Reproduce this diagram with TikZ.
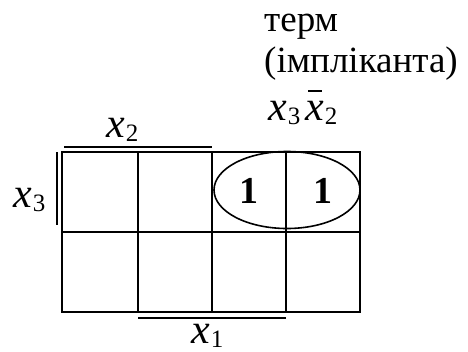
\documentclass[tikz,border=0pt]{standalone}
\usepackage{fontspec}
\setmainfont{Liberation Serif}
\newcommand{\vx}[3][42]{{\fontsize{#1}{#1}\selectfont\itshape #2}\kern1pt\raisebox{-4pt}{\fontsize{25}{25}\selectfont #3}}
\newcommand{\barx}{\rlap{\hspace{3pt}\raisebox{28pt}{\rule{14pt}{1.6pt}}}x}
\begin{document}
\begin{tikzpicture}[x=1pt,y=-1pt,
  grid/.style={line width=1.8pt},
  bar/.style={line width=2pt},
  lbl/.style={inner sep=0pt, anchor=base west},
  one/.style={font=\fontsize{38}{38}\selectfont\bfseries, inner sep=0pt},
  txt/.style={font=\fontsize{37}{37}\selectfont, inner sep=0pt, anchor=base west}]
\useasboundingbox (0,0) rectangle (468,351);
% grid
\draw[grid] (62,152) rectangle (360,312);
\foreach \x in {138,212,286} \draw[grid] (\x,152) -- (\x,312);
\draw[grid] (62,232) -- (360,232);
% bars
\coordinate (b2a) at (64,147); \coordinate (b2b) at (212,147);
\draw[bar] (b2a) -- (b2b);
\coordinate (b3a) at (57,152); \coordinate (b3b) at (57,225);
\draw[bar] (b3a) -- (b3b);
\coordinate (b1a) at (138,318); \coordinate (b1b) at (286,318);
\draw[bar] (b1a) -- (b1b);
% labels
\node[lbl] (lx2) at (106,137) {\vx{x}{2}};
\node[lbl] (lx3) at (13,207) {\vx{x}{3}};
\node[lbl] (lx1) at (191,343) {\vx{x}{1}};
% ones
\node[one, anchor=base] (o1) at (249,203) {1};
\node[one, anchor=base] (o2) at (323,203) {1};
% ellipse
\draw[line width=1.6pt] (287,190) ellipse [x radius=73, y radius=38.5];
% text
\node[txt] (t1) at (264,31) {терм};
\node[txt] (t2) at (264,72) {(імпліканта)};
\node[lbl] (t3) at (268,120) {\vx{x}{3}\hspace{5pt}\vx{\barx}{2}};
\end{tikzpicture}
\end{document}
